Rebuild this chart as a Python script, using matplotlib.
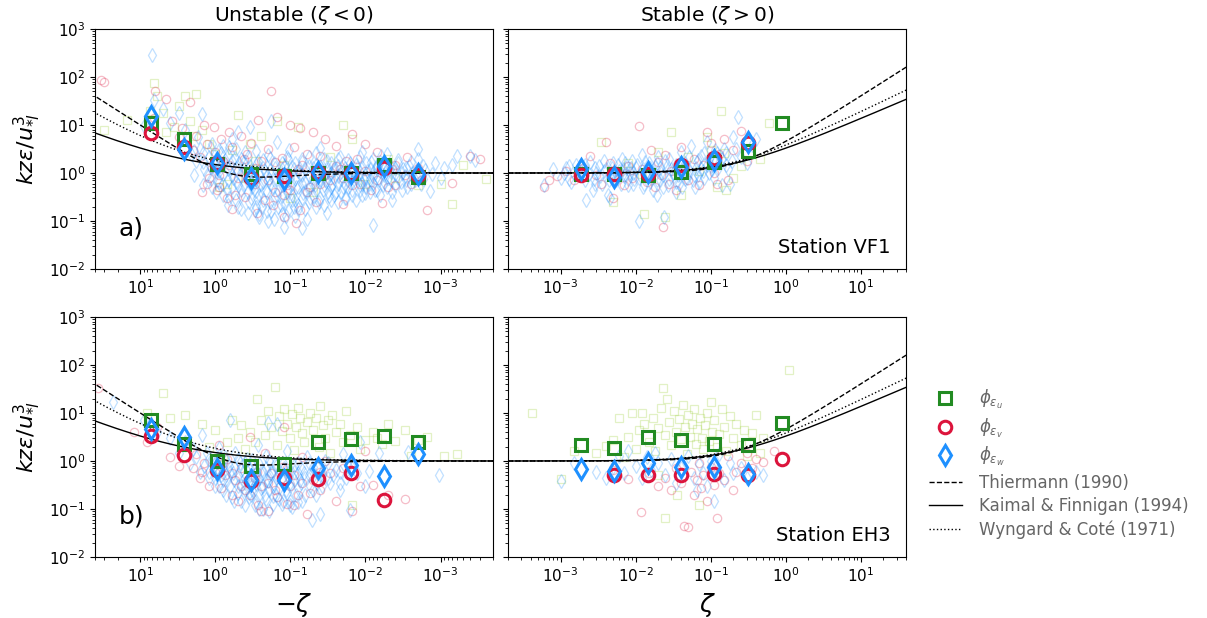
import numpy as np
import matplotlib
matplotlib.use("Agg")
import matplotlib.pyplot as plt
from matplotlib.lines import Line2D
from matplotlib.ticker import LogLocator, NullFormatter

nan = np.nan

# ---- bin centres of the averaged points ----
unstable_bins = [7.2, 2.6, 0.94, 0.335, 0.12, 0.043, 0.0155, 0.0056, 0.002]   # -zeta
stable_bins = [0.0019, 0.0052, 0.0145, 0.040, 0.112, 0.31, 0.88]               # zeta

# ---- bin-averaged phi_eps, station VF1 ----
vf1_unstable_u = [10.8, 5.1, 1.55, 0.95, 0.88, 1.0, 1.0, 1.48, 0.83]
vf1_unstable_v = [6.9, 3.55, 1.58, 0.78, 0.85, 1.03, 1.0, 1.26, 0.93]
vf1_unstable_w = [15.5, 3.2, 1.62, 0.8, 0.74, 1.03, 1.0, 1.4, 0.97]
vf1_stable_u = [0.94, 0.95, 0.93, 1.07, 1.72, 2.9, 10.8]
vf1_stable_v = [0.93, 0.95, 0.96, 1.48, 2.1, 4.3, nan]
vf1_stable_w = [1.19, 0.84, 1.07, 1.32, 1.85, 4.4, nan]

# ---- bin-averaged phi_eps, station EH3 ----
eh3_unstable_u = [7.2, 2.3, 1.0, 0.8, 0.87, 2.45, 2.9, 3.25, 2.45]
eh3_unstable_v = [3.4, 1.33, 0.66, 0.39, 0.44, 0.43, 0.57, 0.155, nan]
eh3_unstable_w = [4.7, 3.2, 0.67, 0.4, 0.41, 0.71, 0.83, 0.48, 1.42]
eh3_stable_u = [2.15, 1.87, 3.16, 2.75, 2.25, 2.2, 6.3]
eh3_stable_v = [nan, 0.51, 0.52, 0.51, 0.53, 0.52, 1.08]
eh3_stable_w = [0.68, 0.62, 0.89, 0.76, 0.74, 0.53, nan]

# ---- individual samples (stability, phi_eps) ----
vf1_unstable_pts_w = [
    (2.1, 2.5), (1.8, 1.8), (1.6, 3.2), (1.4, 1.2), (1.3, 0.9), (1.2, 2.2), (1.1, 4.0), (1.0, 1.5),
    (0.95, 0.7), (1.7, 5.5), (0.9, 1.1), (0.85, 2.6), (0.8, 0.6), (0.75, 1.9), (0.7, 0.45), (0.66, 3.5),
    (0.62, 1.3), (0.58, 0.8), (0.55, 2.1), (0.5, 0.55), (0.48, 1.6), (0.45, 0.35), (0.42, 1.0), (0.4, 2.8),
    (0.38, 0.7), (0.36, 0.25), (0.34, 1.4), (0.32, 0.5), (0.3, 0.9), (0.28, 0.3), (0.27, 1.8), (0.25, 0.6),
    (0.24, 0.2), (0.22, 1.1), (0.21, 0.45), (0.2, 2.4), (0.19, 0.75), (0.18, 0.16), (0.17, 0.5), (0.16, 1.3),
    (0.15, 0.35), (0.14, 0.9), (0.135, 0.22), (0.13, 1.6), (0.12, 0.6), (0.115, 0.13), (0.11, 0.4),
    (0.105, 3.0), (0.1, 0.8), (0.095, 0.28), (0.09, 1.2), (0.085, 0.5), (0.08, 0.18), (0.075, 0.95),
    (0.07, 2.0), (0.067, 0.38), (0.063, 0.65), (0.06, 0.11), (0.057, 1.4), (0.054, 0.3), (0.05, 0.8),
    (0.047, 0.55), (0.045, 2.6), (0.042, 0.25), (0.04, 1.1), (0.037, 0.45), (0.035, 0.7), (0.033, 1.8),
    (0.031, 0.33), (0.03, 0.95), (0.028, 0.6), (0.026, 1.3), (0.025, 0.4), (0.023, 0.85), (0.022, 2.2),
    (0.02, 0.5), (0.019, 1.05), (0.018, 0.3), (0.017, 0.7), (0.016, 1.6), (0.015, 0.45), (0.014, 0.9),
    (0.013, 1.25), (0.012, 0.55), (0.011, 2.7), (0.0105, 0.75), (0.01, 0.38), (0.0095, 1.1), (0.009, 0.6),
    (0.0085, 1.7), (0.008, 0.85), (0.0075, 0.45), (0.007, 1.3), (0.0066, 0.7), (0.0062, 2.3),
    (0.0058, 0.55), (0.0055, 1.0), (0.005, 0.8), (0.0047, 1.5), (0.0044, 0.4), (0.004, 0.95),
    (0.0037, 1.9), (0.0034, 0.65), (0.0032, 1.2), (0.003, 0.85), (0.0028, 0.5), (0.0026, 1.4),
    (0.0024, 1.0), (0.0022, 0.7), (0.002, 2.0), (0.0018, 0.6), (0.0016, 1.15), (0.0014, 0.42),
    (0.0012, 1.6), (0.001, 0.8), (0.0009, 1.3), (0.0007, 1.5), (0.0006, 2.3), (0.0004, 2.3),
    (0.00035, 1.9), (7.0, 290), (6.5, 33), (5.0, 22), (3.0, 18), (1.5, 17), (0.12, 0.075), (0.5, 7),
    (0.35, 9), (0.18, 12), (0.008, 0.082), (0.002, 3.2), (0.0045, 0.28), (0.07, 0.07), (4.0, 11),
    (2.5, 8), (9.0, 9.5), (0.65, 0.3), (0.26, 0.14), (0.09, 0.2), (0.15, 4.5), (0.6, 5.0), (1.1, 0.5),
    (0.033, 0.15), (0.3, 0.17), (0.2, 0.1), (0.5, 0.2), (0.11, 2.2), (0.04, 3.3), (0.8, 3.6),
    (1.9, 0.9), (1.9, 2.9), (1.45, 0.55), (1.45, 1.7), (1.45, 2.6), (1.15, 0.75), (1.15, 1.35),
    (1.15, 3.3), (0.98, 0.4), (0.98, 1.1), (0.98, 2.0), (0.88, 0.65), (0.88, 1.45), (0.88, 3.0),
    (0.78, 0.35), (0.78, 0.95), (0.78, 1.6), (0.68, 0.22), (0.68, 0.7), (0.68, 1.2), (0.68, 2.4),
    (0.6, 0.5), (0.6, 0.9), (0.6, 1.8), (0.53, 0.28), (0.53, 0.65), (0.53, 1.25), (0.53, 3.1),
    (0.46, 0.18), (0.46, 0.45), (0.46, 0.85), (0.46, 2.0), (0.41, 0.6), (0.41, 1.2), (0.41, 1.7),
    (0.37, 0.15), (0.37, 0.4), (0.37, 0.95), (0.37, 2.2), (0.33, 0.3), (0.33, 0.6), (0.33, 1.15),
    (0.29, 0.2), (0.29, 0.42), (0.29, 0.75), (0.29, 1.5), (0.29, 2.9), (0.26, 0.12), (0.26, 0.35),
    (0.26, 0.55), (0.26, 1.0), (0.23, 0.28), (0.23, 0.65), (0.23, 1.3), (0.23, 1.9), (0.205, 0.16),
    (0.205, 0.4), (0.205, 0.85), (0.185, 0.25), (0.185, 0.6), (0.185, 1.15), (0.185, 2.1),
    (0.165, 0.11), (0.165, 0.3), (0.165, 0.7), (0.165, 1.6), (0.145, 0.2), (0.145, 0.45),
    (0.145, 0.95), (0.13, 0.14), (0.13, 0.33), (0.13, 0.55), (0.13, 1.2), (0.118, 0.24), (0.118, 0.7),
    (0.118, 1.5), (0.106, 0.17), (0.106, 0.45), (0.106, 0.95), (0.106, 2.0), (0.096, 0.35),
    (0.096, 0.6), (0.096, 1.35), (0.087, 0.13), (0.087, 0.28), (0.087, 0.75), (0.087, 1.6),
    (0.078, 0.22), (0.078, 0.5), (0.078, 1.1), (0.07, 0.3), (0.07, 0.6), (0.07, 0.9), (0.07, 1.7),
    (0.063, 0.18), (0.063, 0.42), (0.063, 1.2), (0.056, 0.25), (0.056, 0.5), (0.056, 0.85),
    (0.056, 2.2), (0.05, 0.33), (0.05, 0.6), (0.05, 1.25), (0.045, 0.2), (0.045, 0.45), (0.045, 0.95),
    (0.045, 1.5), (0.04, 0.3), (0.04, 0.7), (0.04, 1.35), (0.036, 0.22), (0.036, 0.55), (0.036, 0.85),
    (0.036, 2.0), (0.032, 0.4), (0.032, 0.65), (0.032, 1.2), (0.029, 0.28), (0.029, 0.5), (0.029, 1.0),
    (0.029, 1.6), (0.026, 0.35), (0.026, 0.8), (0.026, 1.15), (0.023, 0.25), (0.023, 0.6),
    (0.023, 1.4), (0.023, 2.0), (0.021, 0.4), (0.021, 0.75), (0.021, 1.05), (0.019, 0.3), (0.019, 0.6),
    (0.019, 1.3), (0.017, 0.5), (0.017, 0.9), (0.017, 1.9), (0.015, 0.35), (0.015, 0.65), (0.015, 1.15),
    (0.0135, 0.28), (0.0135, 0.8), (0.0135, 1.5), (0.012, 0.45), (0.012, 0.7), (0.012, 1.05),
    (0.012, 2.2), (0.011, 0.35), (0.011, 0.6), (0.011, 1.35), (0.0098, 0.5), (0.0098, 0.8),
    (0.0098, 1.6), (0.0088, 0.4), (0.0088, 0.75), (0.0088, 1.2), (0.0079, 0.6), (0.0079, 1.0),
    (0.0079, 2.0), (0.0071, 0.45), (0.0071, 0.85), (0.0071, 1.45), (0.0064, 0.35), (0.0064, 1.1),
    (0.0064, 1.7), (0.0057, 0.65), (0.0057, 0.9), (0.0057, 1.3), (0.0051, 0.5), (0.0051, 1.2),
    (0.0051, 2.5), (0.0046, 0.7), (0.0046, 1.05), (0.0041, 0.55), (0.0041, 1.3), (0.0037, 0.8),
    (0.0037, 1.6), (0.0033, 0.45), (0.0033, 1.0), (0.0029, 0.7), (0.0029, 1.25), (0.0025, 0.6),
    (0.0025, 1.7), (0.0021, 0.9), (0.0017, 0.75), (0.0017, 1.4), (0.0013, 0.95),
]
vf1_unstable_pts_v = [
    (33, 85), (30, 80), (6.3, 50), (6.5, 14), (4.5, 35), (3.8, 12), (3.0, 5.5), (2.8, 8.5), (2.2, 30),
    (2.0, 3.0), (1.8, 6.0), (1.6, 2.2), (1.4, 10), (1.3, 4.0), (1.2, 0.8), (1.1, 1.3), (1.05, 9),
    (1.0, 2.7), (0.95, 0.45), (0.9, 0.5), (0.85, 5), (0.8, 1.8), (0.7, 0.3), (0.65, 7), (0.6, 3.5),
    (0.55, 0.35), (0.5, 1.1), (0.45, 6), (0.4, 0.32), (0.38, 2.5), (0.33, 4.2), (0.3, 0.6), (0.27, 13),
    (0.25, 1.8), (0.22, 0.28), (0.2, 3.2), (0.18, 50), (0.17, 0.22), (0.15, 15), (0.13, 2.1),
    (0.12, 0.12), (0.11, 0.55), (0.1, 10), (0.09, 3.5), (0.085, 0.09), (0.075, 8.5), (0.07, 1.5),
    (0.06, 0.4), (0.05, 7), (0.045, 0.25), (0.04, 2.3), (0.035, 5), (0.03, 0.7), (0.025, 3.6),
    (0.02, 0.23), (0.018, 1.8), (0.015, 6.5), (0.012, 0.6), (0.01, 4.0), (0.0085, 0.45), (0.007, 2.8),
    (0.006, 0.24), (0.005, 0.5), (0.004, 1.5), (0.003, 0.9), (0.0025, 0.6), (0.002, 1.3),
    (0.0015, 0.17), (0.0007, 0.62), (0.0004, 2.3), (0.0003, 2.0), (0.28, 0.15), (0.16, 0.4),
    (0.075, 0.17), (0.6, 0.18), (1.5, 0.4), (0.04, 0.6), (0.022, 1.2),
    (0.5, 0.8), (0.3, 1.3), (0.2, 0.7), (0.12, 0.35), (0.08, 1.2), (0.055, 0.5), (0.035, 0.9),
    (0.025, 1.4), (0.015, 0.55), (0.01, 1.1), (0.007, 0.7), (0.004, 0.55), (0.0028, 2.2), (0.9, 0.9),
    (1.3, 0.6), (0.65, 1.5), (0.42, 2.0), (0.16, 1.7), (0.1, 0.45), (0.06, 2.5), (0.045, 1.1),
    (0.02, 0.8), (0.013, 2.0), (0.0045, 1.2), (0.0018, 0.7),
]
vf1_unstable_pts_u = [
    (30, 8), (15, 13), (7.5, 20), (6.5, 75), (6, 40), (5, 18), (4.5, 7), (3.5, 9), (3, 25), (2.5, 40),
    (2.2, 12), (2, 6), (1.8, 45), (1.5, 8), (1.2, 4), (1, 2.5), (0.9, 0.5), (0.7, 0.6), (0.6, 3),
    (0.5, 16), (0.4, 0.8), (0.3, 1.8), (0.25, 6), (0.15, 12), (0.1, 0.3), (0.08, 9), (0.05, 0.4),
    (0.03, 2.2), (0.02, 10), (0.015, 5), (0.01, 0.6), (0.005, 2), (0.004, 0.8), (0.002, 0.55),
    (0.001, 0.6), (0.0007, 0.23), (0.0005, 1.5), (0.00025, 0.75), (0.35, 4), (0.12, 1.5),
]

vf1_stable_pts_w = [
    (0.0006, 0.55), (0.0008, 1.2), (0.001, 0.8), (0.0012, 1.3), (0.0014, 0.65), (0.0016, 1.5),
    (0.0018, 0.9), (0.002, 1.1), (0.0022, 0.28), (0.0025, 1.7), (0.0028, 0.75), (0.003, 1.0),
    (0.0033, 1.4), (0.0036, 0.6), (0.004, 1.2), (0.0043, 0.35), (0.0046, 0.95), (0.005, 1.6),
    (0.0055, 0.7), (0.006, 1.1), (0.0065, 2.0), (0.007, 0.85), (0.0075, 1.3), (0.008, 0.55),
    (0.0085, 1.0), (0.009, 1.8), (0.0095, 0.75), (0.01, 1.25), (0.011, 0.098), (0.0115, 0.9),
    (0.012, 2.4), (0.013, 0.6), (0.014, 1.1), (0.015, 1.6), (0.016, 0.8), (0.017, 0.45), (0.018, 1.35),
    (0.02, 2.2), (0.021, 0.7), (0.022, 1.0), (0.024, 0.12), (0.025, 1.8), (0.027, 0.55), (0.03, 1.2),
    (0.032, 0.85), (0.035, 1.5), (0.038, 0.6), (0.04, 2.8), (0.043, 1.0), (0.046, 0.75), (0.05, 1.3),
    (0.055, 3.6), (0.06, 0.9), (0.065, 1.7), (0.07, 0.65), (0.075, 2.3), (0.08, 1.1), (0.09, 4.5),
    (0.1, 1.4), (0.11, 0.8), (0.12, 2.6), (0.13, 1.6), (0.14, 0.55), (0.15, 3.2), (0.17, 1.2),
    (0.2, 5.5), (0.23, 15), (0.25, 2.2), (0.3, 1.6), (0.35, 3.8), (0.4, 5.0), (0.18, 0.6),
    (0.0045, 0.3), (0.0027, 0.45), (0.019, 0.35), (0.034, 0.4), (0.062, 0.5),
    (0.0011, 1.0), (0.0013, 0.75), (0.0013, 1.4), (0.0017, 1.15), (0.0021, 0.7), (0.0021, 1.5),
    (0.0024, 0.95), (0.0029, 1.25), (0.0029, 0.6), (0.0034, 0.85), (0.0038, 1.1), (0.0038, 1.8),
    (0.0044, 0.7), (0.0048, 1.3), (0.0048, 0.9), (0.0053, 1.1), (0.0058, 0.8), (0.0058, 1.5),
    (0.0063, 0.6), (0.0068, 1.2), (0.0073, 0.95), (0.0073, 1.6), (0.0079, 0.75), (0.0088, 1.3),
    (0.0093, 0.6), (0.0093, 1.0), (0.0105, 1.5), (0.011, 0.8), (0.0125, 1.2), (0.0125, 0.5),
    (0.0135, 1.7), (0.0145, 0.9), (0.0155, 1.3), (0.0155, 0.65), (0.017, 1.0), (0.019, 0.7),
    (0.019, 1.6), (0.021, 1.25), (0.023, 0.9), (0.023, 0.5), (0.026, 1.4), (0.028, 0.75), (0.028, 2.0),
    (0.031, 1.0), (0.034, 0.65), (0.034, 1.3), (0.037, 0.9), (0.041, 1.15), (0.041, 0.5), (0.045, 1.6),
    (0.048, 0.8), (0.052, 1.1), (0.052, 2.2), (0.058, 0.7), (0.063, 1.3), (0.068, 0.9), (0.068, 1.9),
    (0.074, 1.2), (0.082, 0.8), (0.082, 2.6), (0.088, 1.5), (0.095, 1.0), (0.095, 2.0), (0.105, 1.2),
    (0.115, 1.7), (0.115, 3.0), (0.125, 1.3), (0.14, 2.0), (0.16, 1.5), (0.16, 2.6), (0.19, 1.8),
    (0.22, 3.2),
]
vf1_stable_pts_v = [
    (0.0006, 0.5), (0.0007, 0.7), (0.0009, 0.85), (0.0012, 1.1), (0.0015, 0.7), (0.002, 1.3),
    (0.0025, 2.3), (0.003, 0.9), (0.0035, 0.6), (0.004, 4.5), (0.0045, 1.6), (0.005, 0.3),
    (0.006, 1.0), (0.007, 0.55), (0.008, 1.4), (0.009, 0.8), (0.011, 9.5), (0.012, 1.2), (0.014, 0.65),
    (0.016, 3.0), (0.018, 0.5), (0.02, 1.7), (0.022, 0.9), (0.023, 0.075), (0.025, 2.4), (0.028, 0.6),
    (0.03, 1.1), (0.035, 0.45), (0.04, 3.5), (0.045, 1.3), (0.05, 0.7), (0.06, 2.0), (0.07, 0.55),
    (0.08, 1.5), (0.09, 7), (0.1, 4.2), (0.11, 1.0), (0.12, 0.6), (0.13, 2.5), (0.15, 5), (0.17, 0.7),
    (0.2, 3.0), (0.25, 7.5), (0.3, 1.8),
]
vf1_stable_pts_u = [
    (0.0035, 4.5), (0.005, 0.25), (0.008, 1.6), (0.012, 0.95), (0.013, 0.14), (0.02, 2.8),
    (0.025, 0.12), (0.03, 7), (0.04, 0.35), (0.05, 2.2), (0.07, 1.1), (0.09, 5.5), (0.1, 3.0),
    (0.12, 0.5), (0.136, 20), (0.15, 2.6), (0.16, 0.45), (0.2, 0.8), (0.25, 1.4), (0.6, 11), (0.45, 2.0),
]

eh3_unstable_pts_w = [
    (23, 17), (9, 7), (6, 4), (4, 3), (3, 1.5), (2.5, 2.5), (2.2, 0.9), (2.0, 1.8), (1.8, 1.2),
    (1.6, 0.6), (1.5, 3.5), (1.4, 0.8), (1.3, 1.5), (1.2, 0.45), (1.1, 1.0), (1.0, 0.3), (0.95, 0.7),
    (0.9, 1.9), (0.85, 0.5), (0.8, 0.25), (0.75, 1.2), (0.7, 0.4), (0.65, 0.8), (0.63, 7), (0.6, 0.18),
    (0.58, 0.55), (0.55, 1.5), (0.5, 0.3), (0.47, 0.9), (0.45, 0.15), (0.42, 0.6), (0.4, 0.35),
    (0.38, 1.1), (0.36, 0.22), (0.34, 0.5), (0.32, 0.8), (0.3, 0.12), (0.28, 0.42), (0.27, 2.2),
    (0.25, 0.28), (0.24, 0.65), (0.22, 0.2), (0.21, 1.3), (0.2, 0.38), (0.2, 6.3), (0.19, 0.09),
    (0.18, 0.55), (0.17, 0.3), (0.16, 0.85), (0.15, 6), (0.14, 0.16), (0.13, 0.45), (0.12, 0.7),
    (0.115, 0.25), (0.11, 1.6), (0.1, 0.35), (0.095, 0.11), (0.09, 0.6), (0.085, 0.2), (0.08, 0.9),
    (0.075, 0.4), (0.07, 0.15), (0.065, 0.55), (0.06, 1.2), (0.055, 0.3), (0.051, 0.059), (0.05, 0.75),
    (0.045, 0.2), (0.04, 0.08), (0.038, 0.5), (0.035, 1.0), (0.03, 0.35), (0.025, 0.65), (0.022, 0.25),
    (0.02, 1.4), (0.018, 0.45), (0.016, 0.095), (0.015, 0.7), (0.012, 2.5), (0.01, 0.3), (0.009, 0.62),
    (0.0066, 1.45), (0.0027, 1.55), (0.00105, 0.51), (0.26, 0.1), (0.13, 0.13), (0.33, 0.2),
    (0.17, 0.19), (0.1, 0.15), (0.5, 0.5),
    (1.2, 0.6), (1.2, 1.1), (1.0, 0.45), (1.0, 0.85), (0.9, 0.3), (0.9, 0.6), (0.9, 1.3), (0.8, 0.4),
    (0.8, 0.75), (0.72, 0.2), (0.72, 0.5), (0.72, 1.0), (0.64, 0.3), (0.64, 0.6), (0.57, 0.15),
    (0.57, 0.4), (0.57, 0.75), (0.5, 0.22), (0.5, 1.1), (0.45, 0.3), (0.45, 0.65), (0.4, 0.12),
    (0.4, 0.25), (0.4, 0.45), (0.4, 0.9), (0.36, 0.18), (0.36, 0.38), (0.36, 0.7), (0.32, 0.25),
    (0.32, 0.5), (0.32, 1.05), (0.29, 0.15), (0.29, 0.33), (0.29, 0.6), (0.26, 0.2), (0.26, 0.45),
    (0.26, 0.85), (0.235, 0.1), (0.235, 0.3), (0.235, 0.55), (0.21, 0.16), (0.21, 0.4), (0.21, 0.7),
    (0.19, 0.25), (0.19, 0.5), (0.19, 1.0), (0.17, 0.13), (0.17, 0.35), (0.17, 0.6), (0.155, 0.2),
    (0.155, 0.45), (0.155, 0.8), (0.14, 0.28), (0.14, 0.55), (0.125, 0.15), (0.125, 0.38),
    (0.125, 0.9), (0.112, 0.22), (0.112, 0.5), (0.1, 0.12), (0.1, 0.3), (0.1, 0.65), (0.09, 0.4),
    (0.09, 0.8), (0.08, 0.14), (0.08, 0.28), (0.08, 0.55), (0.072, 0.35), (0.072, 0.7), (0.064, 0.2),
    (0.064, 0.45), (0.057, 0.5), (0.057, 0.9), (0.05, 0.25), (0.05, 0.6), (0.044, 0.35), (0.044, 0.75),
    (0.038, 0.3), (0.038, 0.6), (0.032, 0.45), (0.032, 0.9), (0.027, 0.5), (0.022, 0.6), (0.022, 0.35),
    (0.017, 0.8), (0.013, 0.55),
]
eh3_unstable_pts_v = [
    (37, 33), (12, 4), (8, 2.5), (6, 5), (4, 1.2), (3, 0.8), (2.5, 2), (2, 0.7), (1.8, 1.4), (1.6, 0.45),
    (1.4, 0.9), (1.2, 0.3), (1.0, 0.6), (0.9, 2.2), (0.85, 0.28), (0.75, 0.5), (0.7, 1.1), (0.6, 0.2),
    (0.55, 0.4), (0.5, 0.15), (0.45, 0.7), (0.4, 0.25), (0.35, 3.2), (0.3, 0.45), (0.27, 0.12),
    (0.25, 0.3), (0.22, 1.5), (0.2, 0.09), (0.18, 0.55), (0.15, 0.18), (0.13, 0.75), (0.12, 5),
    (0.11, 0.13), (0.1, 0.3), (0.09, 0.5), (0.08, 0.2), (0.07, 1.2), (0.06, 0.08), (0.05, 0.4),
    (0.04, 0.25), (0.035, 1.0), (0.03, 0.55), (0.025, 0.15), (0.02, 0.7), (0.015, 0.09), (0.012, 0.3),
    (0.01, 1.6), (0.008, 0.32), (0.005, 0.2), (0.003, 0.16),
    (0.6, 0.55), (0.45, 0.3), (0.35, 0.2), (0.28, 0.6), (0.2, 0.35), (0.16, 0.25), (0.13, 0.45),
    (0.09, 0.12), (0.07, 0.35), (0.055, 0.22), (0.8, 0.9), (1.5, 0.6), (0.25, 0.09), (0.11, 0.7),
    (0.04, 0.6),
]
eh3_unstable_pts_u = [
    (8, 10), (5, 26), (4, 8), (2.5, 9), (1.5, 6), (1.2, 2), (1, 4.5), (0.8, 1.2), (0.7, 2.5), (0.6, 7),
    (0.5, 3), (0.45, 5.5), (0.4, 1.8), (0.35, 4), (0.3, 2.5), (0.28, 20), (0.25, 7), (0.22, 3.5),
    (0.2, 11), (0.18, 5), (0.16, 35), (0.15, 2.2), (0.14, 8.5), (0.13, 4.2), (0.12, 12), (0.11, 6),
    (0.1, 3), (0.095, 9.5), (0.09, 1.7), (0.085, 5), (0.08, 13), (0.075, 8), (0.07, 3.8), (0.065, 2.5),
    (0.06, 6.5), (0.055, 10), (0.05, 4.5), (0.045, 8), (0.042, 2), (0.04, 14), (0.037, 5.5),
    (0.035, 3), (0.032, 7), (0.03, 1.5), (0.028, 9), (0.025, 4), (0.022, 6), (0.02, 2.5), (0.018, 11),
    (0.016, 3.5), (0.015, 0.12), (0.013, 5), (0.012, 1.8), (0.01, 2.8), (0.008, 4), (0.007, 3),
    (0.006, 2.3), (0.005, 6), (0.004, 2.6), (0.003, 4.5), (0.0025, 1.3), (0.002, 2.7), (0.0015, 3.2),
    (0.0009, 1.3), (0.0006, 1.4),
]

eh3_stable_pts_u = [
    (0.00042, 9.8), (0.001, 0.42), (0.0015, 1.6), (0.003, 1.5), (0.004, 2.1), (0.005, 2.8), (0.006, 8),
    (0.007, 1.2), (0.008, 3.2), (0.009, 10), (0.01, 1.8), (0.011, 4.5), (0.012, 10), (0.013, 6),
    (0.015, 2.5), (0.017, 8), (0.018, 1.6), (0.02, 4.8), (0.022, 13), (0.023, 34), (0.025, 3.5),
    (0.026, 19.6), (0.028, 6.5), (0.03, 2.2), (0.032, 11), (0.034, 4), (0.036, 0.2), (0.038, 7.5),
    (0.04, 2.9), (0.043, 15), (0.045, 5.2), (0.048, 1.4), (0.05, 9), (0.053, 3.2), (0.056, 6),
    (0.06, 12), (0.063, 2.3), (0.066, 4.6), (0.07, 0.12), (0.073, 8), (0.076, 3), (0.08, 1.8),
    (0.085, 5.5), (0.09, 10), (0.095, 2.6), (0.1, 17), (0.105, 4), (0.11, 7), (0.12, 2), (0.13, 3.6),
    (0.14, 12), (0.15, 5), (0.16, 1.6), (0.18, 8.5), (0.2, 3), (0.22, 6), (0.25, 2.2), (0.28, 4.5),
    (0.3, 1.3), (0.35, 3.8), (0.4, 9), (0.45, 1.5), (0.5, 3), (1.1, 80), (0.025, 0.065), (0.02, 0.5),
]
eh3_stable_pts_v = [
    (0.0117, 0.087), (0.015, 0.55), (0.02, 0.3), (0.025, 0.45), (0.03, 0.25), (0.035, 0.7),
    (0.04, 0.35), (0.044, 0.045), (0.05, 0.042), (0.055, 0.6), (0.06, 0.2), (0.065, 0.4), (0.07, 0.9),
    (0.075, 0.28), (0.08, 0.5), (0.09, 0.15), (0.1, 0.75), (0.11, 0.32), (0.12, 0.065), (0.13, 0.55),
    (0.15, 0.4), (0.17, 1.3), (0.2, 0.25), (0.22, 0.6), (0.25, 0.9), (0.3, 1.5), (0.35, 0.7),
    (0.4, 1.1), (0.5, 0.95), (0.7, 1.6), (0.005, 0.65), (0.008, 0.42),
]
eh3_stable_pts_w = [
    (0.001, 0.38), (0.0015, 0.9), (0.003, 0.6), (0.004, 0.45), (0.005, 0.75), (0.006, 1.3),
    (0.007, 0.55), (0.008, 1.6), (0.01, 0.8), (0.012, 0.45), (0.014, 1.2), (0.016, 0.65), (0.018, 1.5),
    (0.02, 0.9), (0.025, 0.5), (0.03, 1.1), (0.035, 0.35), (0.04, 0.7), (0.05, 1.3), (0.06, 0.45),
    (0.065, 0.25), (0.07, 0.85), (0.08, 0.55), (0.09, 0.3), (0.1, 1.0), (0.11, 0.15), (0.12, 0.6),
    (0.13, 1.4), (0.15, 0.4), (0.18, 0.9), (0.2, 0.55), (0.25, 0.7), (0.3, 0.45), (0.4, 0.6), (0.5, 0.5),
]

x_limits = (2e-4, 40)
y_limits = (1e-2, 1e3)

col_u, col_v, col_w = "forestgreen", "crimson", "dodgerblue"
faint_u, faint_v, faint_w = "yellowgreen", "crimson", "dodgerblue"
legend_grey = "#666666"

# ---- similarity functions ----
def thiermann(z):
    z = np.asarray(z)
    return np.where(z < 0, 1.0 / (1.0 - 3.0 * z) - z, np.sqrt(1.0 + 4.0 * z + 16.0 * z ** 2))

def kaimal_finnigan(z):
    z = np.asarray(z)
    return np.where(z < 0, 1.0 + 0.5 * np.abs(z) ** (2.0 / 3.0), (1.0 + 5.0 * z) ** (2.0 / 3.0))

def wyngaard_cote(z):
    z = np.asarray(z)
    return np.where(z < 0, (1.0 + 0.5 * np.abs(z) ** (2.0 / 3.0)) ** 1.5, (1.0 + 5.0 * z) ** 0.75)

models = [(thiermann, "--", "Thiermann (1990)"),
          (kaimal_finnigan, "-", "Kaimal & Finnigan (1994)"),
          (wyngaard_cote, ":", "Wyngard & Coté (1971)")]

fig = plt.figure(figsize=(12.07, 6.18), dpi=100)
ax_w, ax_h = 0.3298, 0.3883
axes = {
    ("vf1", "unstable"): fig.add_axes([0.0787, 0.5647, ax_w, ax_h]),
    ("vf1", "stable"): fig.add_axes([0.4209, 0.5647, ax_w, ax_h]),
    ("eh3", "unstable"): fig.add_axes([0.0787, 0.0987, ax_w, ax_h]),
    ("eh3", "stable"): fig.add_axes([0.4209, 0.0987, ax_w, ax_h]),
}

panel_data = {
    ("vf1", "unstable"): (unstable_bins, vf1_unstable_u, vf1_unstable_v, vf1_unstable_w,
                          vf1_unstable_pts_u, vf1_unstable_pts_v, vf1_unstable_pts_w),
    ("vf1", "stable"): (stable_bins, vf1_stable_u, vf1_stable_v, vf1_stable_w,
                        vf1_stable_pts_u, vf1_stable_pts_v, vf1_stable_pts_w),
    ("eh3", "unstable"): (unstable_bins, eh3_unstable_u, eh3_unstable_v, eh3_unstable_w,
                          eh3_unstable_pts_u, eh3_unstable_pts_v, eh3_unstable_pts_w),
    ("eh3", "stable"): (stable_bins, eh3_stable_u, eh3_stable_v, eh3_stable_w,
                        eh3_stable_pts_u, eh3_stable_pts_v, eh3_stable_pts_w),
}

zgrid = np.logspace(np.log10(x_limits[0]), np.log10(x_limits[1]), 500)

for (station, regime), ax in axes.items():
    bins, mu, mv, mw, pu, pv, pw = panel_data[(station, regime)]
    ax.set_xscale("log")
    ax.set_yscale("log")

    # individual samples
    for pts, col, mk, ms in [(pu, faint_u, "s", 5.5), (pv, faint_v, "o", 6), (pw, faint_w, "d", 7)]:
        xs, ys = zip(*pts)
        ax.plot(xs, ys, linestyle="none", marker=mk, ms=ms, mfc="none", mec=col,
                mew=0.9, alpha=0.28, zorder=1)

    # similarity curves
    sign = -1.0 if regime == "unstable" else 1.0
    for func, ls, lab in models:
        ax.plot(zgrid, func(sign * zgrid), color="black", linestyle=ls, lw=1.0, zorder=3)

    # bin averages
    ax.plot(bins, mu, linestyle="none", marker="s", ms=9, mfc="none", mec=col_u, mew=2.2, zorder=4)
    ax.plot(bins, mv, linestyle="none", marker="o", ms=9, mfc="none", mec=col_v, mew=2.2, zorder=5)
    ax.plot(bins, mw, linestyle="none", marker="d", ms=10.5, mfc="none", mec=col_w, mew=2.2, zorder=6)

    ax.set_ylim(*y_limits)
    if regime == "unstable":
        ax.set_xlim(x_limits[1], x_limits[0])
        ax.set_ylabel(r"$kz\varepsilon/u_{*l}^3$", fontsize=16)
    else:
        ax.set_xlim(*x_limits)
        ax.tick_params(axis="y", which="both", labelleft=False)

    ax.xaxis.set_major_locator(LogLocator(base=10, numticks=20))
    ax.xaxis.set_minor_locator(LogLocator(base=10, subs=np.arange(2, 10), numticks=20))
    ax.xaxis.set_minor_formatter(NullFormatter())
    ax.yaxis.set_major_locator(LogLocator(base=10, numticks=20))
    ax.yaxis.set_minor_locator(LogLocator(base=10, subs=np.arange(2, 10), numticks=20))
    ax.yaxis.set_minor_formatter(NullFormatter())
    ax.tick_params(axis="both", which="major", labelsize=11)

axes[("vf1", "unstable")].set_title(r"Unstable ($\zeta < 0$)", fontsize=14.5)
axes[("vf1", "stable")].set_title(r"Stable ($\zeta > 0$)", fontsize=14.5)
axes[("eh3", "unstable")].set_xlabel(r"$-\zeta$", fontsize=18)
axes[("eh3", "stable")].set_xlabel(r"$\zeta$", fontsize=18)

axes[("vf1", "unstable")].text(0.06, 0.17, "a)", transform=axes[("vf1", "unstable")].transAxes,
                               fontsize=18, ha="left", va="center")
axes[("eh3", "unstable")].text(0.06, 0.17, "b)", transform=axes[("eh3", "unstable")].transAxes,
                               fontsize=18, ha="left", va="center")
axes[("vf1", "stable")].text(0.96, 0.09, "Station VF1", transform=axes[("vf1", "stable")].transAxes,
                             fontsize=14, ha="right", va="center")
axes[("eh3", "stable")].text(0.96, 0.09, "Station EH3", transform=axes[("eh3", "stable")].transAxes,
                             fontsize=14, ha="right", va="center")

handles = [
    Line2D([], [], linestyle="none", marker="s", ms=9, mfc="none", mec=col_u, mew=2.2),
    Line2D([], [], linestyle="none", marker="o", ms=9, mfc="none", mec=col_v, mew=2.2),
    Line2D([], [], linestyle="none", marker="d", ms=10.5, mfc="none", mec=col_w, mew=2.2),
] + [Line2D([], [], color="black", linestyle=ls, lw=1.0) for _, ls, _ in models]
labels = [r"$\phi_{\varepsilon_u}$", r"$\phi_{\varepsilon_v}$", r"$\phi_{\varepsilon_w}$"] + \
         [lab for _, _, lab in models]

fig.legend(handles, labels, loc="center left", bbox_to_anchor=(0.757, 0.25), frameon=False,
           fontsize=12, labelcolor=legend_grey, handlelength=2.0, handletextpad=1.0,
           labelspacing=0.32)

fig.savefig("out.png", dpi=100)
